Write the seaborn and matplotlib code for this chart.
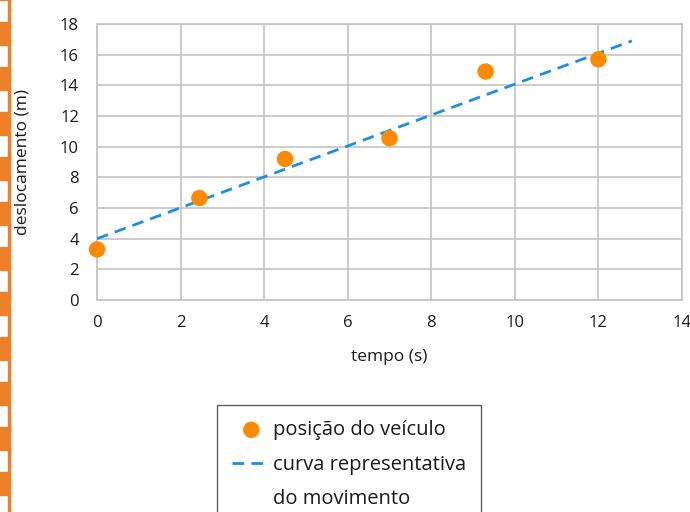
import numpy as np
import pandas as pd
import matplotlib.pyplot as plt
import seaborn as sns
from matplotlib.patches import Rectangle
from matplotlib.lines import Line2D

# valores
tempo = [0.0, 2.45, 4.5, 7.0, 9.3, 12.0]
deslocamento = [3.3, 6.65, 9.2, 10.55, 14.9, 15.7]
curva_t = [0.0, 12.8]
curva_d = [4.0, 16.9]
x_ticks = [0, 2, 4, 6, 8, 10, 12, 14]
y_ticks = [0, 2, 4, 6, 8, 10, 12, 14, 16, 18]

sns.set_style("white")
plt.rcParams['font.family'] = ['Open Sans', 'DejaVu Sans']

df_pts = pd.DataFrame({"tempo": tempo, "desl": deslocamento})
df_line = pd.DataFrame({"tempo": curva_t, "desl": curva_d})

fig = plt.figure(figsize=(6.9, 5.12), dpi=100)
ax = fig.add_axes([97 / 690, 1 - 300 / 512, 585 / 690, 276 / 512])

grid_c = "#c4c4c4"
txt_c = "#1a1a1a"
ax.set_xlim(0, 14)
ax.set_ylim(0, 18)
ax.set_xticks(x_ticks)
ax.set_yticks(y_ticks)
ax.grid(True, color=grid_c, linewidth=1.2)
for s in ax.spines.values():
    s.set_color(grid_c)
    s.set_linewidth(1.2)
ax.tick_params(length=0, labelsize=12, colors=txt_c)
ax.tick_params(axis="x", pad=11)
ax.tick_params(axis="y", pad=13)

sns.lineplot(data=df_line, x="tempo", y="desl", color="#1a8fe3", linewidth=2.0,
             linestyle=(0, (4.2, 2.6)), ax=ax, label="curva representativa",
             zorder=3)
sns.scatterplot(data=df_pts, x="tempo", y="desl", color="#ff8a00", s=140,
                edgecolor="none", ax=ax, label="posição do veículo", zorder=4,
                clip_on=False)

ax.set_xlabel("tempo (s)", fontsize=12.5, labelpad=13, color=txt_c)
ax.set_ylabel("deslocamento (m)", fontsize=12.5, labelpad=21, color=txt_c)

handles, labels = ax.get_legend_handles_labels()
blank = Line2D([], [], linestyle="none", marker=None)
leg = ax.legend([handles[1], handles[0], blank],
                [labels[1], labels[0], "do movimento"],
                loc="upper left", bbox_to_anchor=(217 / 690, 1 - 405 / 512),
                bbox_transform=fig.transFigure, fontsize=14.5, frameon=True,
                fancybox=False, edgecolor="#333333", borderpad=0.75,
                handlelength=1.9, handletextpad=0.12, labelspacing=0.72,
                borderaxespad=0)
leg.get_frame().set_linewidth(1.0)
for t in leg.get_texts():
    t.set_color(txt_c)

# borda tracejada laranja à esquerda
for y0 in np.arange(-23, 512, 45):
    fig.patches.append(Rectangle((0, 1 - (y0 + 23) / 512), 8 / 690, 23 / 512,
                                 transform=fig.transFigure, color="#f07f2a"))
fig.patches.append(Rectangle((8 / 690, 0), 1.5 / 690, 1, transform=fig.transFigure,
                             color="#f07f2a"))

fig.savefig("out.png", dpi=100)
